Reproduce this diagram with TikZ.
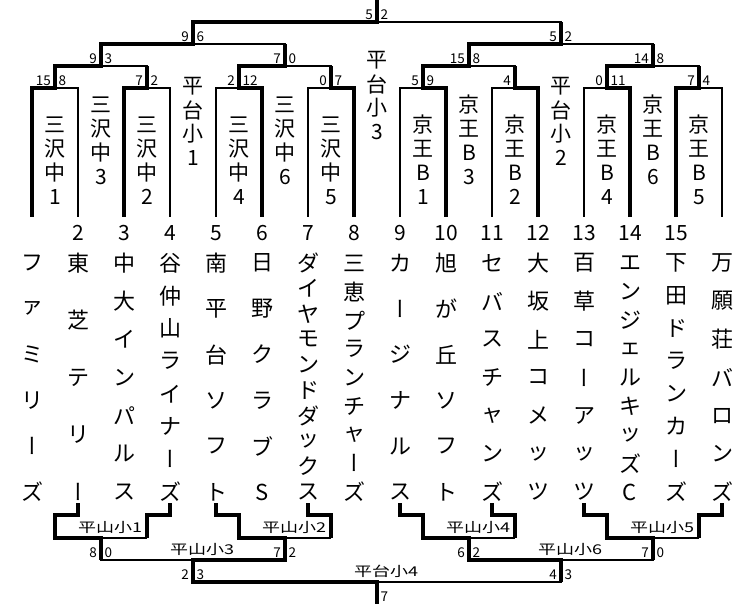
\documentclass[tikz,border=0pt]{standalone}
\usepackage{fontspec}
\setmainfont{Noto Sans CJK JP}
\newfontfamily\tatefont[RawFeature=+vert]{Noto Sans CJK JP}
\usetikzlibrary{positioning}
\tikzset{
  thinline/.style={line width=1.3pt},
  winline/.style={line width=4.8pt, line join=miter},
  score/.style={font=\fontsize{13.5}{14}\selectfont, inner sep=0pt},
  teamno/.style={font=\fontsize{21}{21}\selectfont, inner sep=0pt},
  kana/.style={font=\fontsize{22}{22}\selectfont, inner sep=0pt},
  refchar/.style={font=\fontsize{21}{21}\selectfont, inner sep=0pt},
  reflabel/.style={font=\fontsize{18}{18}\selectfont, inner sep=0pt, anchor=base},
}
% long vowel mark, standing upright in a column
\newcommand\chou{{\tatefont ー}}
% team name, written top to bottom and spread over the column
\newcommand\teamname[2]{%
  \foreach \ch [count=\n] in {#2} {\xdef\nchars{\n}}%
  \pgfmathsetmacro\gap{229/(\nchars-1)}%
  \foreach \ch [count=\k] in {#2}
    {\node[kana] (name#1-\k) at ({32+46*(#1-1)},{263+\gap*(\k-1)}) {\ch};}%
}
% referee, written top to bottom
\newcommand\refcol[4]{%
  \foreach \ch [count=\k] in {#4}
    {\node[refchar] (#1-\k) at (#2,{#3+24*(\k-1)}) {\ch};}%
}

\begin{document}
\begin{tikzpicture}[x=1pt, y=-1pt]
  \useasboundingbox (0,0) rectangle (747,604);
  \foreach \i in {1,...,16} {
    \coordinate (b\i) at ({32+46*(\i-1)},217);
    \coordinate (c\i) at ({32+46*(\i-1)},503);
  }
  % upper bracket
  \foreach \i in {1,...,8} \coordinate (m\i) at ({55+92*(\i-1)},88);
  \foreach \i in {9,...,12} \coordinate (m\i) at ({101+184*(\i-9)},66);
  \coordinate (m13) at (193,44);
  \coordinate (m14) at (561,44);
  \coordinate (m15) at (377,22);
  \coordinate (m0) at (377,0);
  \foreach \i [evaluate=\i as \a using int(2*\i-1), evaluate=\i as \b using int(2*\i)] in {1,...,8}
    \draw[thinline] (b\a) |- (m\i) -| (b\b);
  \foreach \p/\l/\r in {9/1/2, 10/3/4, 11/5/6, 12/7/8, 13/9/10, 14/11/12, 15/13/14}
    \draw[thinline] (m\l) |- (m\p) -| (m\r);
  \foreach \w/\p in {b1/m1, b3/m2, b6/m3, b8/m4, b10/m5, b12/m6, b14/m7, b15/m8,
                     m1/m9, m3/m10, m5/m11, m7/m12, m9/m13, m11/m14}
    \draw[winline] (\w) |- (\p) -- ++(0,-22);
  \draw[winline] (m13) |- (m15) -- (m0);
  \foreach \p/\l/\r in {m1/15/8, m2/7/2, m3/2/12, m4/0/7, m5/5/9, m6/4/{}, m7/0/11, m8/7/4,
                        m9/9/3, m10/7/0, m11/15/8, m12/14/8, m13/9/6, m14/5/2, m15/5/2} {
    \node[score, anchor=base east] (\p-l) at ([xshift=-4pt, yshift=2.5pt]\p) {\l};
    \node[score, anchor=base west] (\p-r) at ([xshift=3.5pt, yshift=2.5pt]\p) {\r};
  }
  % referees of the upper bracket
  \refcol{ref1}{55}{125}{三,沢,中,1}
  \refcol{ref2}{147}{125}{三,沢,中,2}
  \refcol{ref4}{239}{125}{三,沢,中,4}
  \refcol{ref5}{331}{125}{三,沢,中,5}
  \refcol{refB1}{423}{125}{京,王,B,1}
  \refcol{refB2}{515}{125}{京,王,B,2}
  \refcol{refB4}{607}{125}{京,王,B,4}
  \refcol{refB5}{699}{125}{京,王,B,5}
  \refcol{ref3}{101}{105}{三,沢,中,3}
  \refcol{ref6}{285}{105}{三,沢,中,6}
  \refcol{refB3}{469}{105}{京,王,B,3}
  \refcol{refB6}{653}{105}{京,王,B,6}
  \refcol{refH1}{193}{86}{平,台,小,1}
  \refcol{refH2}{561}{86}{平,台,小,2}
  \refcol{refH3}{377}{60}{平,台,小,3}
  % teams
  \foreach \i in {2,...,15} \node[teamno] (no\i) at ({32+46*(\i-1)},233) {\i};
  \teamname{1}{フ,ァ,ミ,リ,\chou,ズ}
  \teamname{2}{東,芝,テ,リ,\chou}
  \teamname{3}{中,大,イ,ン,パ,ル,ス}
  \teamname{4}{谷,仲,山,ラ,イ,ナ,\chou,ズ}
  \teamname{5}{南,平,台,ソ,フ,ト}
  \teamname{6}{日,野,ク,ラ,ブ,S}
  \teamname{7}{ダ,イ,ヤ,モ,ン,ド,ダ,ッ,ク,ス}
  \teamname{8}{三,恵,プ,ラ,ン,チ,ャ,\chou,ズ}
  \teamname{9}{カ,\chou,ジ,ナ,ル,ス}
  \teamname{10}{旭,が,丘,ソ,フ,ト}
  \teamname{11}{セ,バ,ス,チ,ャ,ン,ズ}
  \teamname{12}{大,坂,上,コ,メ,ッ,ツ}
  \teamname{13}{百,草,コ,\chou,ア,ッ,ツ}
  \teamname{14}{エ,ン,ジ,ェ,ル,キ,ッ,ズ,C}
  \teamname{15}{下,田,ド,ラ,ン,カ,\chou,ズ}
  \teamname{16}{万,願,荘,バ,ロ,ン,ズ}
  % lower bracket
  \foreach \k/\x in {1/101, 2/285, 4/469, 5/653} {
    \coordinate (k\k) at (\x,538);
    \coordinate (k\k l) at (\x-46,538);
    \coordinate (k\k r) at (\x+46,538);
    \draw[thinline] (k\k l) -- (k\k r);
  }
  \coordinate (k3) at (193,560);
  \coordinate (k6) at (561,560);
  \coordinate (k7) at (377,582);
  \coordinate (k0) at (377,604);
  \draw[thinline] (k1) |- (k3) -| (k2);
  \draw[thinline] (k4) |- (k6) -| (k5);
  \draw[thinline] (k3) |- (k7) -| (k6);
  \foreach \w/\ws/\v/\vs/\k in {c2/l/c4/r/1, c5/l/c7/r/2, c9/l/c11/r/4, c13/l/c16/r/5} {
    \draw[winline] (\w) -- ++(0,12) -| (k\k\ws) -- (k\k) -- ++(0,22);
    \draw[winline] (\v) -- ++(0,12) -| (k\k\vs);
  }
  \draw[winline] (k2) |- (k3) -- ++(0,22);
  \draw[winline] (k4) |- (k6) -- ++(0,22);
  \draw[winline] (k3) |- (k7) -- (k0);
  \foreach \p/\l/\r in {k1/8/0, k2/7/2, k4/6/2, k5/7/0, k3/2/3, k6/4/3, k7/{}/7} {
    \node[score, anchor=base east] (\p-l) at ([xshift=-4pt, yshift=-19pt]\p) {\l};
    \node[score, anchor=base west] (\p-r) at ([xshift=3.5pt, yshift=-19pt]\p) {\r};
  }
  \foreach \p/\t in {k1/平山小1, k2/平山小2, k4/平山小4, k5/平山小5, k3/平山小3, k6/平山小6, k7/平台小4}
    \node[reflabel] (\p-ref) at ([xshift=9pt, yshift=5.5pt]\p) {\scalebox{1}[0.75]{\t}};
\end{tikzpicture}
\end{document}
